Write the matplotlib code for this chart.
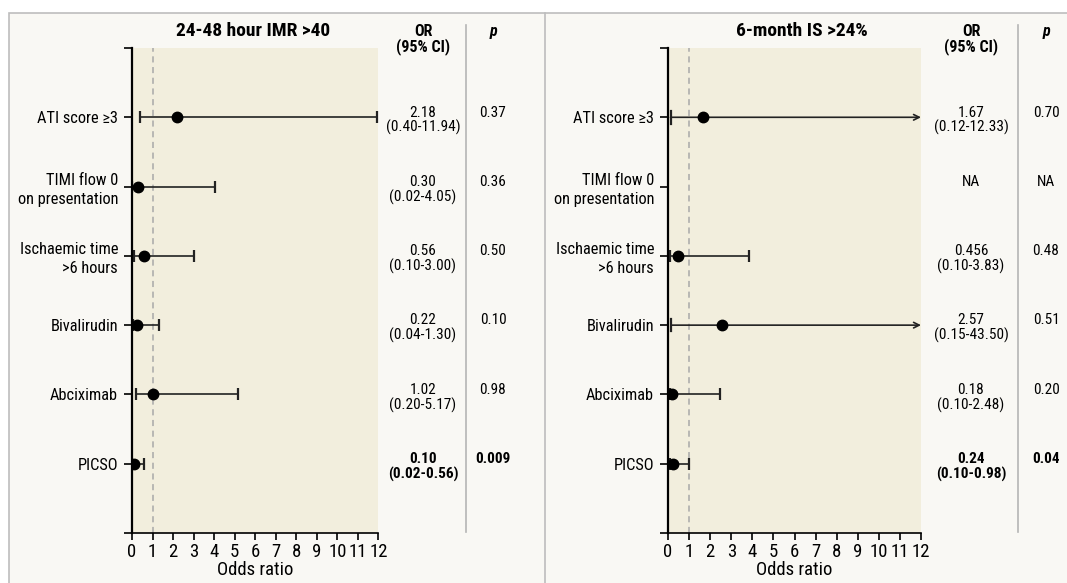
import numpy as np
import matplotlib
matplotlib.use("Agg")
import matplotlib.pyplot as plt
import matplotlib.transforms as mtransforms
from matplotlib.lines import Line2D
from matplotlib.patches import Rectangle

plt.rcParams['font.family'] = ['Roboto Condensed', 'PT Sans Narrow', 'DejaVu Sans']

# data
factors = ["ATI score \u22653", "TIMI flow 0\non presentation", "Ischaemic time\n>6 hours",
           "Bivalirudin", "Abciximab", "PICSO"]

imr_title = "24-48 hour IMR >40"
imr_or = [2.18, 0.30, 0.56, 0.22, 1.02, 0.10]
imr_lo = [0.40, 0.02, 0.10, 0.04, 0.20, 0.02]
imr_hi = [11.94, 4.05, 3.00, 1.30, 5.17, 0.56]
imr_p = ["0.37", "0.36", "0.50", "0.10", "0.98", "0.009"]

is_title = "6-month IS >24%"
is_or = [1.67, np.nan, 0.456, 2.57, 0.18, 0.24]
is_lo = [0.12, np.nan, 0.10, 0.15, 0.10, 0.10]
is_hi = [12.33, np.nan, 3.83, 43.50, 2.48, 0.98]
is_p = ["0.70", "NA", "0.48", "0.51", "0.20", "0.04"]

bold_rows = [5]
xmax = 12

W, H = 1067, 583
fig = plt.figure(figsize=(W / 100, H / 100), dpi=100, facecolor='white')

# background panel with border
fig.add_artist(Rectangle((9 / W, -0.01), 1.0, 1 - 13 / H + 0.01, transform=fig.transFigure,
                         facecolor='#f9f8f4', edgecolor='#bdbdbd', lw=1.2, zorder=-10))
fig.add_artist(Line2D([545 / W, 545 / W], [0, 1 - 13 / H], transform=fig.transFigure,
                      color='#bdbdbd', lw=1.2))


def panel(left_px, width_px, title, title_px, or_vals, lo, hi, pvals, or_px, sep_px, p_px):
    ax = fig.add_axes([left_px / W, 1 - 533 / H, width_px / W, (533 - 48) / H])
    ax.set_facecolor('#f2eedd')
    ypos = np.arange(1, len(factors) + 1)
    ax.set_xlim(0, xmax)
    ax.set_ylim(7, 0)
    ax.axvline(1, color='#a8a8a8', lw=1.1, ls=(0, (4, 3)), zorder=1)

    for i, y in enumerate(ypos):
        o, l, h = or_vals[i], lo[i], hi[i]
        if np.isnan(o):
            continue
        if h > xmax:
            # CI runs off the scale: arrow to the edge
            ax.annotate("", xy=(xmax, y), xytext=(l, y),
                        arrowprops=dict(arrowstyle='->', color='#222222', lw=1.2,
                                        shrinkA=0, shrinkB=0), zorder=2)
            ax.plot([l, l], [y - 0.09, y + 0.09], color='#222222', lw=1.6, zorder=2)
        else:
            ax.errorbar([o], [y], xerr=[[o - l], [h - o]], fmt='none', ecolor='#222222',
                        elinewidth=1.2, capsize=4, capthick=1.6, zorder=2)
        ax.plot([o], [y], 'o', color='black', ms=7.5, zorder=3)

    ax.set_yticks(range(0, 8))
    ax.set_yticklabels([""] + factors + [""], fontsize=11.8, linespacing=1.3)
    ax.set_xticks(range(0, xmax + 1))
    ax.tick_params(axis='x', labelsize=13.5, length=5, width=1.2, pad=2)
    ax.tick_params(axis='y', length=6, width=1.2, pad=4)
    for s in ['top', 'right']:
        ax.spines[s].set_visible(False)
    ax.spines['left'].set_linewidth(1.6)
    ax.spines['bottom'].set_linewidth(1.2)
    ax.set_xlabel("Odds ratio", fontsize=13.5, labelpad=0)

    fig.text(title_px / W, 1 - 31 / H, title, fontsize=14, fontweight='bold',
             ha='center', va='center')
    fig.text(or_px / W, 1 - 24 / H, "OR\n(95% CI)", fontsize=11.5, fontweight='bold',
             ha='center', va='top', linespacing=0.95)
    fig.text(p_px / W, 1 - 24 / H, "p", fontsize=11.5, fontweight='bold', style='italic',
             ha='center', va='top')
    fig.add_artist(Line2D([sep_px / W, sep_px / W], [1 - 532 / H, 1 - 25 / H],
                          transform=fig.transFigure, color='#b5b5b5', lw=1.2))

    trans = mtransforms.blended_transform_factory(fig.transFigure, ax.transData)
    for i, y in enumerate(ypos):
        w = 'bold' if i in bold_rows else 'normal'
        if np.isnan(or_vals[i]):
            label = "NA"
        else:
            olab = f"{or_vals[i]:.3f}" if or_vals[i] == 0.456 else f"{or_vals[i]:.2f}"
            label = f"{olab}\n({lo[i]:.2f}-{hi[i]:.2f})"
        fs = 11
        ax.text(or_px / W, y - 0.17, label, transform=trans, ha='center', va='top',
                fontsize=fs, fontweight=w, linespacing=1.05, clip_on=False)
        ax.text(p_px / W, y - 0.17, pvals[i], transform=trans, ha='center', va='top',
                fontsize=fs, fontweight=w, clip_on=False)
    return ax


panel(132, 246.5, imr_title, 253, imr_or, imr_lo, imr_hi, imr_p, 423, 466, 493)
panel(668, 253, is_title, 802, is_or, is_lo, is_hi, is_p, 971, 1018, 1046)

fig.savefig("out.png", dpi=100, facecolor=fig.get_facecolor())
